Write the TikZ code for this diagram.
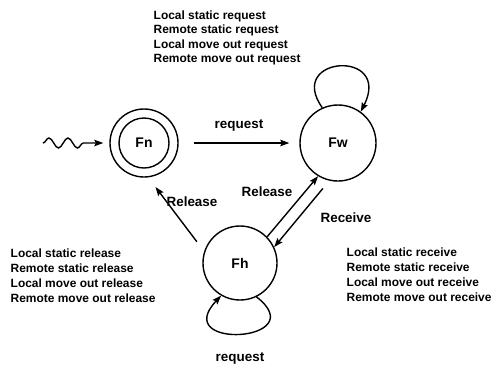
\documentclass[tikz,border=0pt]{standalone}
\usepackage{fontspec}
\setmainfont{Liberation Sans}
\usetikzlibrary{arrows.meta,decorations.pathmorphing}
\begin{document}
\begin{tikzpicture}[x=1bp,y=-1bp,line width=1.4bp,
  >={Stealth[length=9bp,width=6.5bp,inset=1.5bp]},
  state/.style={circle,draw,inner sep=0pt,minimum size=76bp,font=\fontsize{14}{14}\selectfont\bfseries},
  lbl/.style={font=\fontsize{13.5}{13.5}\selectfont\bfseries,inner sep=0pt},
  lst/.style={font=\fontsize{12}{15}\selectfont\bfseries,align=left,inner sep=0pt}]
\useasboundingbox (0,0) rectangle (503,370);
% states
\node[state,minimum size=68bp] (fn) at (144,143) {};
\node[state,minimum size=50bp] (fninner) at (fn.center) {Fn};
\node[state] (fw) at (338,143) {Fw};
\node[state,minimum size=74bp] (fh) at (240,263) {Fh};
% initial wavy arrow
\coordinate (wstart) at (43,143);
\draw[->,decorate,decoration={snake,amplitude=5bp,segment length=19bp,post length=12bp}]
  (wstart) -- ([xshift=-6bp]fn.west);
% transitions
\draw[->,shorten <=15bp,shorten >=10bp] (fn) -- (fw)
  node[lbl,midway,above=11bp] {request};
\draw[->,shorten <=12bp,shorten >=12bp] (fh.162) -- (fn.-83);
\node[lbl] (relA) at (192,202) {Release};
\draw[->] (fh.44) -- (fw.239);
\node[lbl] (relB) at (267,192) {Release};
\draw[->,shorten <=10bp] (fw.257) -- (fh.25);
\node[lbl] (rec) at (346,218) {Receive};
% self loops
\draw[->] (fw.114) .. controls +(-37,-52) and +(32,-63) .. (fw.54);
\draw[->] (fh.-64) .. controls +(58,45) and +(-52,55) .. (fh.-120);
\node[lbl] (req2) at (240,358) {request};
% lists
\node[lst,anchor=north west] (topl) at (153,10) {Local static request\\[-0.5bp]Remote static request\\[-0.5bp]Local move out request\\[-0.5bp]Remote move out request};
\node[lst,anchor=north west] (leftl) at (10,248) {Local static release\\Remote static release\\Local move out release\\Remote move out release};
\node[lst,anchor=north west] (rightl) at (346,247) {Local static receive\\Remote static receive\\Local move out receive\\Remote move out receive};
\end{tikzpicture}
\end{document}
